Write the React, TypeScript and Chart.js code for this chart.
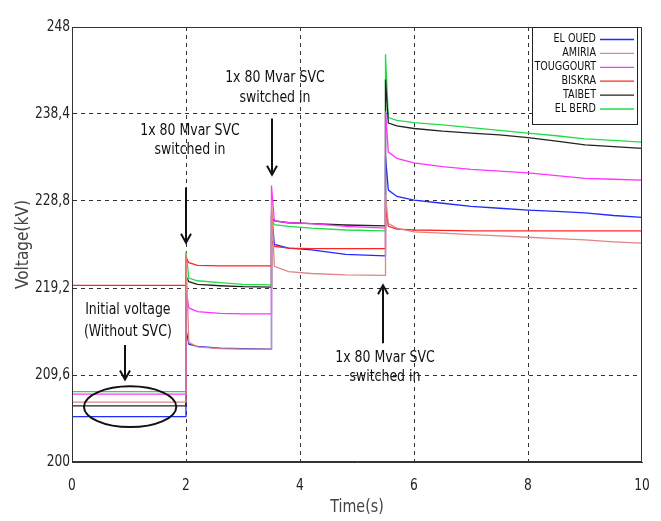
import React, { useEffect, useRef } from "react";
import { Chart, registerables } from "chart.js";

Chart.register(...registerables);

const FONT = "'Liberation Sans Narrow', 'DejaVu Sans Condensed', 'Arial Narrow', sans-serif";

// time samples (s)
const TIME = [0, 1.999, 2, 2.05, 2.2, 2.6, 3.0, 3.499, 3.5, 3.55, 3.8, 4.2, 4.8, 5.499, 5.5, 5.55, 5.7, 6.0, 6.5, 7.0, 7.5, 8.0, 8.5, 9.0, 9.5, 10];

// voltages (kV)
const EL_OUED = [205.0, 205.0, 214.6, 213.0, 212.75, 212.55, 212.5, 212.45, 227.6, 224.0, 223.6, 223.4, 222.9, 222.75, 233.7, 230.0, 229.3, 228.9, 228.55, 228.2, 228.0, 227.8, 227.65, 227.5, 227.2, 227.0];
const AMIRIA = [206.6, 206.6, 223.0, 213.2, 212.7, 212.5, 212.45, 212.45, 229.0, 221.6, 221.0, 220.8, 220.65, 220.6, 229.5, 226.3, 225.8, 225.4, 225.25, 225.1, 224.95, 224.8, 224.65, 224.5, 224.3, 224.15];
const TOUGGOURT = [207.5, 207.5, 219.1, 217.0, 216.6, 216.4, 216.35, 216.35, 230.5, 226.6, 226.4, 226.3, 226.0, 225.8, 238.7, 234.2, 233.5, 233.0, 232.6, 232.3, 232.1, 231.9, 231.6, 231.3, 231.2, 231.1];
const BISKRA = [219.5, 219.5, 222.5, 222.0, 221.7, 221.65, 221.65, 221.65, 224.5, 223.8, 223.6, 223.55, 223.55, 223.55, 228.0, 226.0, 225.7, 225.6, 225.55, 225.5, 225.5, 225.5, 225.5, 225.5, 225.5, 225.5];
const TAIBET = [206.2, 206.2, 220.5, 219.9, 219.6, 219.45, 219.35, 219.3, 227.0, 226.6, 226.4, 226.3, 226.15, 226.05, 242.2, 237.4, 237.1, 236.8, 236.5, 236.3, 236.1, 235.8, 235.4, 235.0, 234.8, 234.6];
const EL_BERD = [207.76, 207.76, 223.2, 220.3, 220.0, 219.8, 219.6, 219.55, 226.8, 226.2, 226.0, 225.8, 225.6, 225.5, 245.0, 238.0, 237.7, 237.45, 237.2, 236.9, 236.6, 236.3, 236.0, 235.65, 235.5, 235.3];

const SERIES_NAMES = ["EL OUED", "AMIRIA", "TOUGGOURT", "BISKRA", "TAIBET", "EL BERD"];
const SERIES_VALUES = [EL_OUED, AMIRIA, TOUGGOURT, BISKRA, TAIBET, EL_BERD];
const SERIES_COLORS = ["#1f2bff", "#e08686", "#ff33ff", "#ff2424", "#222222", "#22dd44"];
const SERIES_ORDER = [1, 0, 0, 0, 0, 0];

const Y_TICKS = [200, 209.6, 219.2, 228.8, 238.4, 248];
const Y_TICK_LABELS = ["200", "209,6", "219,2", "228,8", "238,4", "248"];
const X_TICKS = [0, 2, 4, 6, 8, 10];
const X_TICK_LABELS = ["0", "2", "4", "6", "8", "10"];

const X_TITLE = "Time(s)";
const Y_TITLE = "Voltage(kV)";

// annotations in data units
const NOTES = [
  { lines: ["1x 80 Mvar SVC", "switched in"], tx: 2.07, ty: [236.5, 234.4], ax: 2.0, from: 230.3, to: 224.2 },
  { lines: ["1x 80 Mvar SVC", "switched in"], tx: 3.56, ty: [242.4, 240.2], ax: 3.5, from: 237.9, to: 231.7 },
  { lines: ["1x 80 Mvar SVC", "switched in"], tx: 5.49, ty: [211.5, 209.4], ax: 5.46, from: 213.1, to: 219.5 },
  { lines: ["Initial voltage", "(Without SVC)"], tx: 0.98, ty: [216.8, 214.4], ax: 0.93, from: 212.9, to: 209.1 },
];
const ELLIPSE = { cx: 1.02, cy: 206.1, rx: 0.81, ry: 2.25 };

function narrow(ctx: CanvasRenderingContext2D, text: string, x: number, y: number, sx: number) {
  ctx.save();
  ctx.translate(x, y);
  ctx.scale(sx, 1);
  ctx.fillText(text, 0, 0);
  ctx.restore();
}

const overlay = {
  id: "overlay",
  afterDraw(chart: any) {
    const { ctx, chartArea: a, scales } = chart;
    const xs = scales.x;
    const ys = scales.y;
    ctx.save();

    // frame
    ctx.setLineDash([]);
    ctx.strokeStyle = "#333";
    ctx.lineWidth = 1;
    ctx.strokeRect(a.left + 0.5, a.top + 0.5, a.width - 1, a.height - 1);

    // tick labels
    ctx.fillStyle = "#222";
    ctx.font = `16px ${FONT}`;
    ctx.textBaseline = "middle";
    ctx.textAlign = "right";
    Y_TICKS.forEach((v, i) => narrow(ctx, Y_TICK_LABELS[i], a.left - 2, ys.getPixelForValue(v), 0.85));
    ctx.textAlign = "center";
    X_TICKS.forEach((v, i) => narrow(ctx, X_TICK_LABELS[i], xs.getPixelForValue(v), a.bottom + 24, 0.85));

    // legend
    const lx = a.right - 110;
    const ly = a.top;
    ctx.fillStyle = "#fff";
    ctx.fillRect(lx, ly, 105, 97);
    ctx.strokeStyle = "#222";
    ctx.strokeRect(lx + 0.5, ly + 0.5, 105, 97);
    ctx.font = `13px ${FONT}`;
    ctx.textAlign = "right";
    ctx.textBaseline = "middle";
    SERIES_NAMES.forEach((n, i) => {
      const yy = ly + 12 + i * 13.9;
      ctx.fillStyle = "#111";
      narrow(ctx, n, a.right - 46, yy, 0.82);
      ctx.strokeStyle = SERIES_COLORS[i];
      ctx.lineWidth = 1.3;
      ctx.beginPath();
      ctx.moveTo(a.right - 42, yy + 0.5);
      ctx.lineTo(a.right - 8, yy + 0.5);
      ctx.stroke();
    });

    // annotations
    ctx.fillStyle = "#111";
    ctx.strokeStyle = "#111";
    ctx.font = `16px ${FONT}`;
    ctx.textAlign = "center";
    NOTES.forEach((n) => {
      const cx = xs.getPixelForValue(n.tx);
      n.lines.forEach((t, k) => narrow(ctx, t, cx, ys.getPixelForValue(n.ty[k]), 0.87));
      const ax = Math.round(xs.getPixelForValue(n.ax));
      const y1 = ys.getPixelForValue(n.from);
      const y2 = ys.getPixelForValue(n.to);
      const dir = y2 > y1 ? 1 : -1;
      ctx.lineWidth = 2;
      ctx.beginPath();
      ctx.moveTo(ax, y1);
      ctx.lineTo(ax, y2);
      ctx.moveTo(ax - 5, y2 - dir * 9);
      ctx.lineTo(ax, y2);
      ctx.lineTo(ax + 5, y2 - dir * 9);
      ctx.stroke();
    });

    // ellipse
    const ecx = xs.getPixelForValue(ELLIPSE.cx);
    const ecy = ys.getPixelForValue(ELLIPSE.cy);
    const erx = Math.abs(xs.getPixelForValue(ELLIPSE.cx + ELLIPSE.rx) - ecx);
    const ery = Math.abs(ys.getPixelForValue(ELLIPSE.cy + ELLIPSE.ry) - ecy);
    ctx.lineWidth = 2;
    ctx.beginPath();
    ctx.ellipse(ecx, ecy, erx, ery, 0, 0, Math.PI * 2);
    ctx.stroke();

    // axis titles
    ctx.fillStyle = "#444";
    ctx.font = `18px ${FONT}`;
    ctx.textAlign = "center";
    ctx.textBaseline = "middle";
    narrow(ctx, X_TITLE, (a.left + a.right) / 2, a.bottom + 45, 0.88);
    ctx.save();
    ctx.translate(23, (a.top + a.bottom) / 2);
    ctx.rotate(-Math.PI / 2);
    narrow(ctx, Y_TITLE, 0, 0, 0.95);
    ctx.restore();

    ctx.restore();
  },
};

export default function App() {
  const ref = useRef<HTMLCanvasElement | null>(null);
  useEffect(() => {
    if (!ref.current) return;
    const datasets = SERIES_NAMES.map((name, i) => ({
      label: name,
      data: TIME.map((t, k) => ({ x: t, y: SERIES_VALUES[i][k] })),
      borderColor: SERIES_COLORS[i],
      backgroundColor: SERIES_COLORS[i],
      borderWidth: 1.3,
      pointRadius: 0,
      tension: 0,
      fill: false,
      order: SERIES_ORDER[i],
    }));
    const gridColor = (edges: number[]) => (c: any) =>
      c.tick && edges.includes(c.tick.value) ? "rgba(0,0,0,0)" : "#333";
    const chart = new Chart(ref.current, {
      type: "line",
      data: { datasets },
      plugins: [overlay],
      options: {
        responsive: false,
        animation: false,
        layout: { padding: { top: 27, right: 19, left: 0, bottom: 0 } },
        plugins: { legend: { display: false }, tooltip: { enabled: false } },
        scales: {
          x: {
            type: "linear",
            min: 0,
            max: 10,
            afterBuildTicks: (s: any) => {
              s.ticks = X_TICKS.map((v) => ({ value: v }));
            },
            afterFit: (s: any) => {
              s.height = 59;
            },
            ticks: { display: false, autoSkip: false, maxRotation: 0 },
            grid: { color: gridColor([0, 10]), lineWidth: 1, drawTicks: false },
            border: { display: true, color: "#333", width: 1, dash: [4, 4] },
          },
          y: {
            type: "linear",
            min: 200,
            max: 248,
            afterBuildTicks: (s: any) => {
              s.ticks = Y_TICKS.map((v) => ({ value: v }));
            },
            afterFit: (s: any) => {
              s.width = 72;
            },
            ticks: { display: false, autoSkip: false },
            grid: { color: gridColor([200, 248]), lineWidth: 1, drawTicks: false },
            border: { display: true, color: "#333", width: 1, dash: [4, 4] },
          },
        },
      } as any,
    });
    return () => chart.destroy();
  }, []);
  return (
    <div style={{ position: "fixed", left: 0, top: 0, width: 661, height: 521, background: "#fff" }}>
      <canvas ref={ref} width={661} height={521} style={{ display: "block" }} />
    </div>
  );
}
